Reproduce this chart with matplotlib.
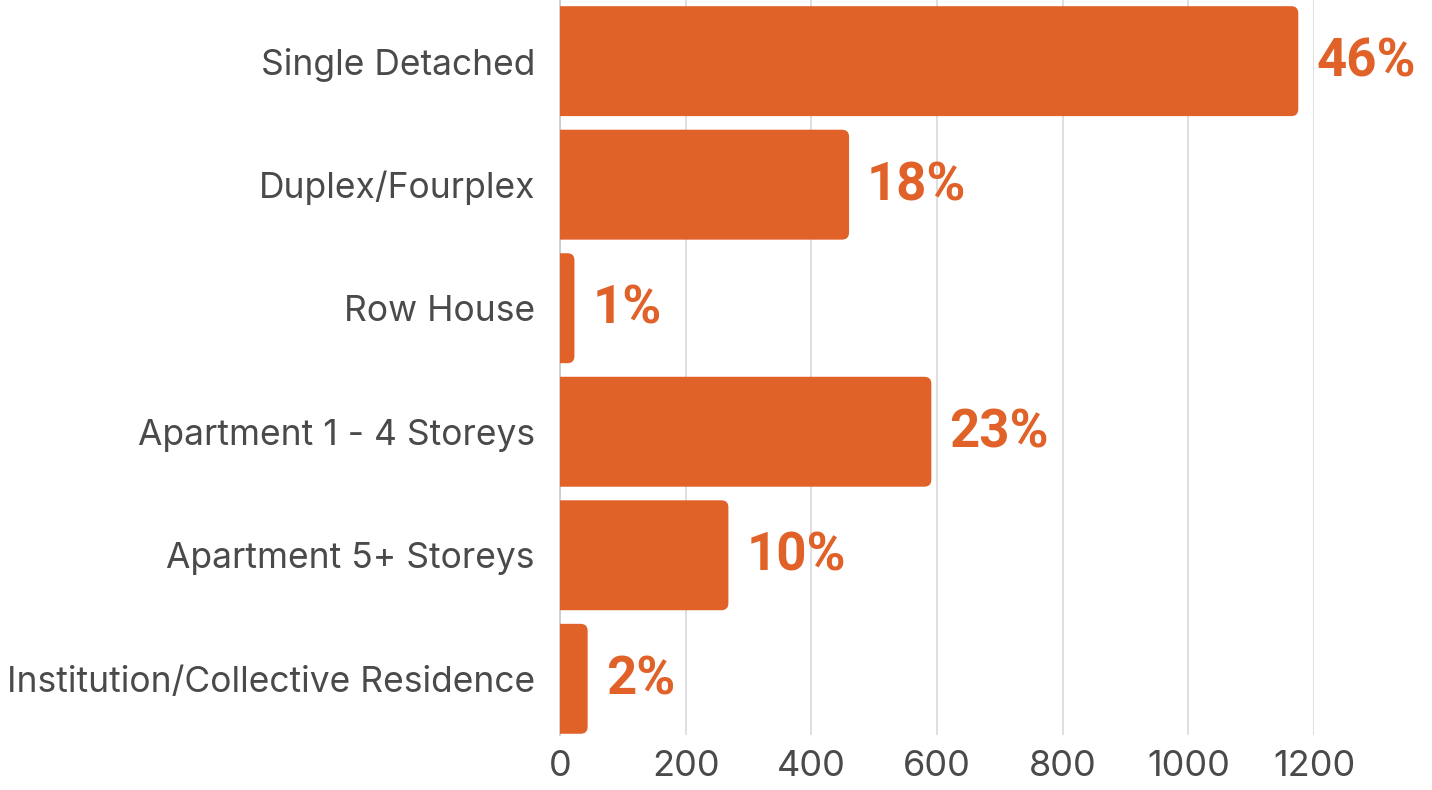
import matplotlib
matplotlib.use("Agg")
import matplotlib.pyplot as plt
from matplotlib.patches import FancyBboxPatch

categories = ["Single Detached", "Duplex/Fourplex", "Row House",
              "Apartment 1 - 4 Storeys", "Apartment 5+ Storeys",
              "Institution/Collective Residence"]
values = [1175, 460, 23, 591, 268, 44]
pct_labels = ["46%", "18%", "1%", "23%", "10%", "2%"]
xticks = [0, 200, 400, 600, 800, 1000, 1200]

ORANGE = "#E06229"
W, H = 1432, 790
fig = plt.figure(figsize=(W / 100, H / 100), dpi=100)
left, right = 560 / W, 1314 / W
top, bottom = 1 - 0 / H, 1 - 735 / H
ax = fig.add_axes([left, bottom, right - left, top - bottom])

ypos = list(range(len(categories)))
bars = ax.barh(ypos, values, height=0.89, color=ORANGE, zorder=3)
ax.set_xlim(0, 1200)
ax.set_ylim(5.455, -0.495)

# replace rectangles by right-rounded patches
fig.canvas.draw()
px_per_x = ax.transData.transform((1, 0))[0] - ax.transData.transform((0, 0))[0]
px_per_y = abs(ax.transData.transform((0, 1))[1] - ax.transData.transform((0, 0))[1])
r_px = 7
rx = r_px / px_per_x
aspect = (1 / px_per_y) / (1 / px_per_x)
for b in bars:
    x0, y0, w, h = b.get_x(), b.get_y(), b.get_width(), b.get_height()
    b.set_visible(False)
    p = FancyBboxPatch((x0 - 2 * rx, y0), w + 2 * rx, h,
                       boxstyle=f"round,pad=0,rounding_size={rx}",
                       mutation_aspect=aspect, facecolor=ORANGE,
                       edgecolor="none", zorder=3, clip_on=True)
    ax.add_patch(p)

for y, v, lab in zip(ypos, values, pct_labels):
    ax.text(v + 18 / px_per_x, y + 0.01, lab, color=ORANGE, fontsize=38,
            fontweight="bold", family=["Roboto", "DejaVu Sans"],
            va="center", ha="left", clip_on=False, zorder=4)

ax.set_yticks(ypos)
ax.set_yticklabels(categories, family=["Inter", "DejaVu Sans"], fontsize=25.5,
                   color="#4a4a4a")
ax.set_xticks(xticks)
ax.set_xticklabels([str(t) for t in xticks], family=["Inter", "DejaVu Sans"],
                   fontsize=26, color="#4a4a4a")
ax.tick_params(axis="y", length=0, pad=18)
ax.tick_params(axis="x", length=0, pad=11)

ax.grid(axis="x", color="#d9d9d9", linewidth=1.2, zorder=0)
for s in ["top", "right", "bottom"]:
    ax.spines[s].set_visible(False)
ax.spines["left"].set_color("#c5cbd5")
ax.spines["left"].set_linewidth(1.2)
ax.spines["left"].set_zorder(2)

fig.savefig("out.png", dpi=100)
